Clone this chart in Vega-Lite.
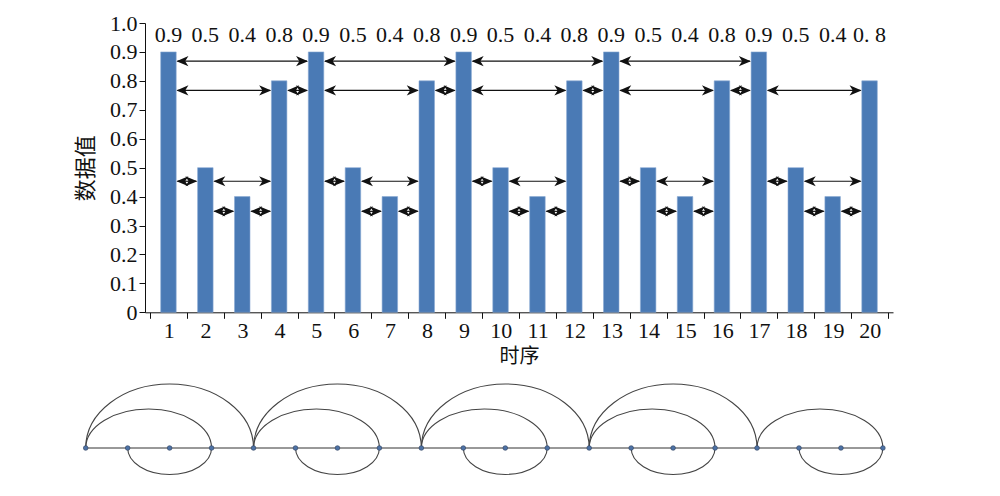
{
  "$schema": "https://vega.github.io/schema/vega-lite/v6.json",
  "padding": {"left": 74, "top": 12, "right": 5, "bottom": 0},
  "background": "white",
  "config": {"view": {"stroke": null}},
  "spacing": 14,
  "datasets": {
    "bars": [
      {"t": 1, "v": 0.9, "label": "0.9"}, {"t": 2, "v": 0.5, "label": "0.5"}, {"t": 3, "v": 0.4, "label": "0.4"}, {"t": 4, "v": 0.8, "label": "0.8"},
      {"t": 5, "v": 0.9, "label": "0.9"}, {"t": 6, "v": 0.5, "label": "0.5"}, {"t": 7, "v": 0.4, "label": "0.4"}, {"t": 8, "v": 0.8, "label": "0.8"},
      {"t": 9, "v": 0.9, "label": "0.9"}, {"t": 10, "v": 0.5, "label": "0.5"}, {"t": 11, "v": 0.4, "label": "0.4"}, {"t": 12, "v": 0.8, "label": "0.8"},
      {"t": 13, "v": 0.9, "label": "0.9"}, {"t": 14, "v": 0.5, "label": "0.5"}, {"t": 15, "v": 0.4, "label": "0.4"}, {"t": 16, "v": 0.8, "label": "0.8"},
      {"t": 17, "v": 0.9, "label": "0.9"}, {"t": 18, "v": 0.5, "label": "0.5"}, {"t": 19, "v": 0.4, "label": "0.4"}, {"t": 20, "v": 0.8, "label": "0. 8"}
    ],
    "arrows": [
      {"from": 1, "to": 5, "level": 0.868}, {"from": 1, "to": 4, "level": 0.767}, {"from": 4, "to": 5, "level": 0.767},
      {"from": 1, "to": 2, "level": 0.453}, {"from": 2, "to": 4, "level": 0.453}, {"from": 2, "to": 3, "level": 0.349}, {"from": 3, "to": 4, "level": 0.349},
      {"from": 5, "to": 9, "level": 0.868}, {"from": 5, "to": 8, "level": 0.767}, {"from": 8, "to": 9, "level": 0.767},
      {"from": 5, "to": 6, "level": 0.453}, {"from": 6, "to": 8, "level": 0.453}, {"from": 6, "to": 7, "level": 0.349}, {"from": 7, "to": 8, "level": 0.349},
      {"from": 9, "to": 13, "level": 0.868}, {"from": 9, "to": 12, "level": 0.767}, {"from": 12, "to": 13, "level": 0.767},
      {"from": 9, "to": 10, "level": 0.453}, {"from": 10, "to": 12, "level": 0.453}, {"from": 10, "to": 11, "level": 0.349}, {"from": 11, "to": 12, "level": 0.349},
      {"from": 13, "to": 17, "level": 0.868}, {"from": 13, "to": 16, "level": 0.767}, {"from": 16, "to": 17, "level": 0.767},
      {"from": 13, "to": 14, "level": 0.453}, {"from": 14, "to": 16, "level": 0.453}, {"from": 14, "to": 15, "level": 0.349}, {"from": 15, "to": 16, "level": 0.349},
      {"from": 17, "to": 20, "level": 0.767},
      {"from": 17, "to": 18, "level": 0.453}, {"from": 18, "to": 20, "level": 0.453}, {"from": 18, "to": 19, "level": 0.349}, {"from": 19, "to": 20, "level": 0.349}
    ],
    "nodes": [
      {"t": 1}, {"t": 2}, {"t": 3}, {"t": 4}, {"t": 5}, {"t": 6}, {"t": 7}, {"t": 8}, {"t": 9}, {"t": 10},
      {"t": 11}, {"t": 12}, {"t": 13}, {"t": 14}, {"t": 15}, {"t": 16}, {"t": 17}, {"t": 18}, {"t": 19}, {"t": 20}
    ],
    "arcsUp": [
      {"from": 1, "span": 4}, {"from": 5, "span": 4}, {"from": 9, "span": 4}, {"from": 13, "span": 4},
      {"from": 1, "span": 3}, {"from": 5, "span": 3}, {"from": 9, "span": 3}, {"from": 13, "span": 3}, {"from": 17, "span": 3}
    ],
    "arcsDown": [
      {"from": 2, "span": 2}, {"from": 6, "span": 2}, {"from": 10, "span": 2}, {"from": 14, "span": 2}, {"from": 18, "span": 2}
    ]
  },
  "vconcat": [
    {
      "width": 748,
      "height": 289.3,
      "layer": [
        {
          "data": {"name": "bars"},
          "mark": {"type": "bar", "width": 15.5, "color": "#4a7ab5", "stroke": "#8aaad3", "strokeWidth": 0.6},
          "encoding": {
            "x": {
              "field": "t", "type": "quantitative",
              "scale": {"domain": [0.5, 20.5], "nice": false, "zero": false},
              "axis": {
                "values": [0.5, 1.5, 2.5, 3.5, 4.5, 5.5, 6.5, 7.5, 8.5, 9.5, 10.5, 11.5, 12.5, 13.5, 14.5, 15.5, 16.5, 17.5, 18.5, 19.5, 20.5],
                "tickCount": 40,
                "labelExpr": "datum.value < 20 ? format(datum.value + 0.5, 'd') : ''",
                "labelOffset": 18.7,
                "labelFlush": false,
                "labelOverlap": false,
                "labelBound": false,
                "grid": false,
                "title": "时序",
                "titleFont": "Noto Sans CJK SC",
                "titleFontSize": 20,
                "titleFontWeight": "normal",
                "titleColor": "#111",
                "titlePadding": 5,
                "labelFont": "Liberation Serif",
                "labelFontSize": 22,
                "labelColor": "#111",
                "labelPadding": 2,
                "tickSize": 6,
                "tickColor": "#111",
                "domainColor": "#111"
              }
            },
            "y": {
              "field": "v", "type": "quantitative",
              "scale": {"domain": [0, 1], "nice": false},
              "axis": {
                "values": [0, 0.1, 0.2, 0.3, 0.4, 0.5, 0.6, 0.7, 0.8, 0.9, 1.0],
                "tickCount": 40,
                "labelExpr": "datum.value == 0 ? '0' : format(datum.value, '.1f')",
                "labelOverlap": false,
                "labelFlush": false,
                "labelBound": false,
                "grid": false,
                "title": "数据值",
                "titleFont": "Noto Sans CJK SC",
                "titleFontSize": 22,
                "titleFontWeight": "normal",
                "titleColor": "#111",
                "titlePadding": 12,
                "labelFont": "Liberation Serif",
                "labelFontSize": 22,
                "labelColor": "#111",
                "labelPadding": 2,
                "tickSize": 6,
                "tickColor": "#111",
                "domainColor": "#111"
              }
            }
          }
        },
        {
          "data": {"name": "bars"},
          "mark": {"type": "text", "font": "Liberation Serif", "fontSize": 22, "color": "#111", "baseline": "middle"},
          "encoding": {
            "x": {"field": "t", "type": "quantitative"},
            "y": {"datum": 0.96},
            "text": {"field": "label"}
          }
        },
        {
          "data": {"name": "arrows"},
          "mark": {"type": "rule", "color": "#111", "strokeWidth": 1.2, "xOffset": 9, "x2Offset": -9},
          "encoding": {
            "x": {"field": "from", "type": "quantitative"},
            "x2": {"field": "to"},
            "y": {"field": "level", "type": "quantitative"}
          }
        },
        {
          "data": {"name": "arrows"},
          "mark": {"type": "point", "filled": true, "color": "#111", "opacity": 1, "size": 144, "xOffset": 14, "shape": "M-1,0 L1,-0.85 L0.45,0 L1,0.85 Z"},
          "encoding": {
            "x": {"field": "from", "type": "quantitative"},
            "y": {"field": "level", "type": "quantitative"}
          }
        },
        {
          "data": {"name": "arrows"},
          "mark": {"type": "point", "filled": true, "color": "#111", "opacity": 1, "size": 144, "xOffset": -14, "shape": "M1,0 L-1,-0.85 L-0.45,0 L-1,0.85 Z"},
          "encoding": {
            "x": {"field": "to", "type": "quantitative"},
            "y": {"field": "level", "type": "quantitative"}
          }
        }
      ]
    },
    {
      "width": 748,
      "height": 80,
      "layer": [
        {
          "data": {"name": "nodes"},
          "mark": {"type": "line", "color": "#333", "strokeWidth": 1},
          "encoding": {
            "x": {"field": "t", "type": "quantitative", "scale": {"domain": [1, 20], "range": [-59.3, 737.9], "nice": false, "zero": false}, "axis": null},
            "y": {"datum": 0, "scale": {"domain": [-1, 1]}, "axis": null}
          }
        },
        {
          "data": {"name": "arcsUp"},
          "mark": {"type": "point", "filled": false, "color": "#444", "strokeWidth": 1.1, "opacity": 1},
          "encoding": {
            "x": {"field": "from", "type": "quantitative"},
            "y": {"datum": 0},
            "shape": {"field": "span", "type": "ordinal", "legend": null, "scale": {"domain": [3, 4], "range": ["M0,0 C0,-0.342 0.448,-0.62 1,-0.62 C1.552,-0.62 2,-0.342 2,0", "M0,0 C0,-0.421 0.448,-0.763 1,-0.763 C1.552,-0.763 2,-0.421 2,0"]}},
            "size": {"field": "span", "type": "quantitative", "legend": null, "scale": {"type": "pow", "exponent": 2, "domain": [0, 4], "range": [0, 28157]}}
          }
        },
        {
          "data": {"name": "arcsDown"},
          "mark": {"type": "point", "filled": false, "color": "#444", "strokeWidth": 1.1, "opacity": 1, "shape": "M0,0 C0,0.348 0.448,0.63 1,0.63 C1.552,0.63 2,0.348 2,0"},
          "encoding": {
            "x": {"field": "from", "type": "quantitative"},
            "y": {"datum": 0},
            "size": {"field": "span", "type": "quantitative", "legend": null}
          }
        },
        {
          "data": {"name": "nodes"},
          "mark": {"type": "point", "filled": true, "color": "#4d72a6", "stroke": "#2c3e5c", "strokeWidth": 0.6, "size": 22, "opacity": 1},
          "encoding": {
            "x": {"field": "t", "type": "quantitative"},
            "y": {"datum": 0}
          }
        }
      ]
    }
  ]
}
